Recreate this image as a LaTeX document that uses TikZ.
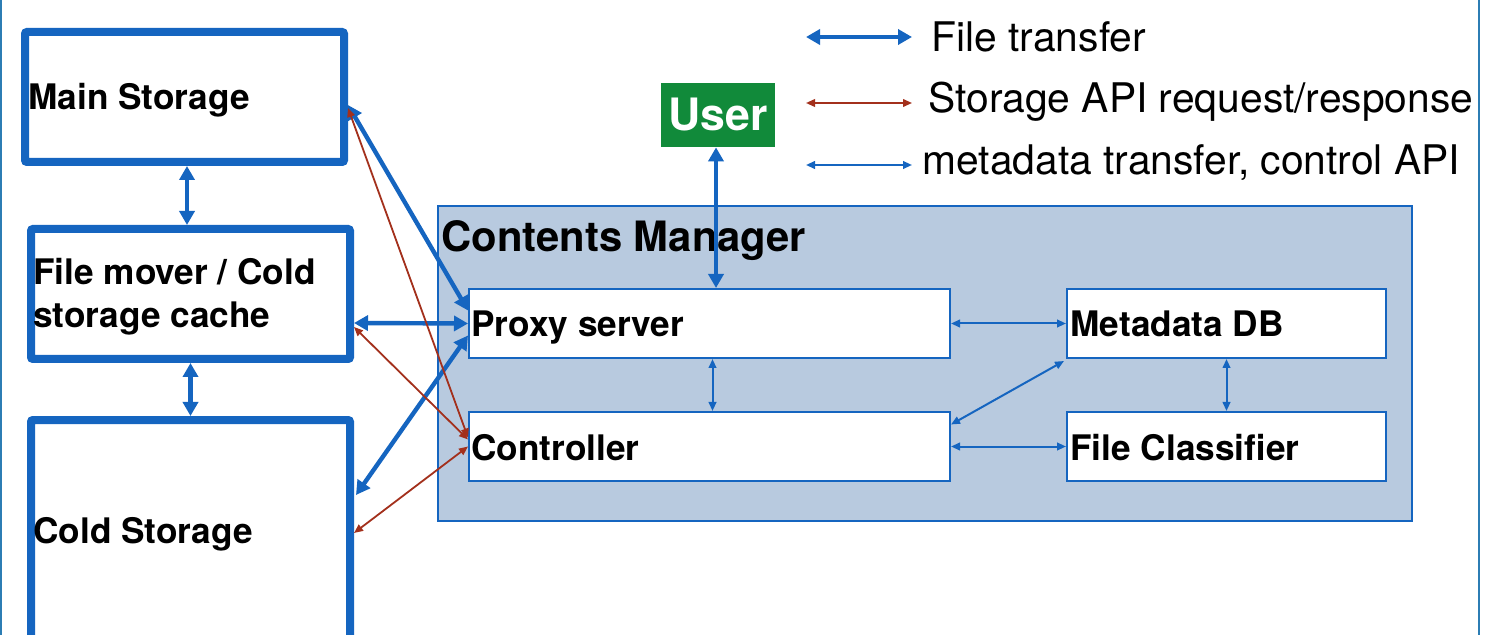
\documentclass[tikz,border=0pt]{standalone}
\usepackage{fontspec}
\setmainfont{TeX Gyre Heros}
\usetikzlibrary{arrows.meta,calc}
\definecolor{flow}{HTML}{1565C0}
\definecolor{api}{HTML}{A3301C}
\definecolor{mgr}{HTML}{B8CADF}
\definecolor{usr}{HTML}{118A3A}
\definecolor{edge}{HTML}{2C7DB4}
\begin{document}
\begin{tikzpicture}[x=0.5pt,y=-0.5pt,
  store/.style={draw=flow, line width=4pt, fill=white, rounded corners=1pt,
    inner sep=0pt, minimum width=159.5pt},
  part/.style={draw=flow, line width=1pt, fill=white, inner sep=0pt, minimum height=34.5pt},
  lbl/.style={font=\bfseries\fontsize{17.6}{21.5}\selectfont, inner sep=0pt, anchor=base west},
  legendtext/.style={font=\fontsize{20.4}{24}\selectfont, inner sep=0pt, anchor=base west},
  ft/.style={draw=flow, line width=2.2pt,
    {Triangle[length=7pt,width=7.5pt]}-{Triangle[length=7pt,width=7.5pt]}},
  apicall/.style={draw=api, line width=0.9pt,
    {Triangle[length=4.5pt,width=3.8pt]}-{Triangle[length=4.5pt,width=3.8pt]}},
  meta/.style={draw=flow, line width=1pt,
    {Triangle[length=4.5pt,width=3.8pt]}-{Triangle[length=4.5pt,width=3.8pt]}}
]
\fill[white] (0,0) rectangle (1491,635);
\useasboundingbox (0,0) rectangle (1491,635);

% side rules of the slide frame
\draw[edge, line width=1pt] (1,0) -- (1,635);
\draw[edge, line width=1pt] (1479,0) -- (1479,635);

% storage tiers
\node[store, minimum height=65pt] (main) at (184.5,97) {};
\node[store, minimum height=65pt] (mover) at (190.5,294) {};
\node[store, minimum height=130pt] (cold) at (190.5,550) {};
\node[lbl] (mainT) at (28,110) {Main Storage};
\node[lbl] (moverT1) at (33,285) {File mover / Cold};
\node[lbl] (moverT2) at (33,328) {storage cache};
\node[lbl] (coldT) at (33,543) {Cold Storage};

% contents manager and its parts
\node[draw=flow, line width=1pt, fill=mgr, inner sep=0pt,
  minimum width=487pt, minimum height=157.5pt] (cm) at (925,363.5) {};
\node[lbl, font=\bfseries\fontsize{20.9}{24}\selectfont] (cmT) at (441,252) {Contents Manager};
\node[part, minimum width=240.5pt] (proxy) at (709.5,323.5) {};
\node[part, minimum width=240.5pt] (ctrl) at (709.5,446.5) {};
\node[part, minimum width=159.5pt] (mdb) at (1226.5,323.5) {};
\node[part, minimum width=159.5pt] (cls) at (1226.5,446.5) {};
\node[lbl] (proxyT) at (471,337) {Proxy server};
\node[lbl] (ctrlT) at (471,460) {Controller};
\node[lbl] (mdbT) at (1070,337) {Metadata DB};
\node[lbl] (clsT) at (1070,460) {File Classifier};

% user
\node[fill=usr, text=white, inner sep=0pt, minimum width=57pt, minimum height=32pt,
  font=\bfseries\fontsize{22.3}{26}\selectfont] (user) at (718,115) {User};

% legend
\coordinate (l1a) at (806,37);  \coordinate (l1b) at (912,37);
\coordinate (l2a) at (806,103); \coordinate (l2b) at (912,103);
\coordinate (l3a) at (806,165); \coordinate (l3b) at (912,165);
\draw[ft] (l1a) -- (l1b);
\draw[apicall] (l2a) -- (l2b);
\draw[meta] (l3a) -- (l3b);
\node[legendtext] (l1T) at (931,52) {File transfer};
\node[legendtext] (l2T) at (928,113) {Storage API request/response};
\node[legendtext] (l3T) at (922,175) {metadata transfer, control API};

% file transfers
\draw[ft] ([shift={(2.5,0)}]main.south) -- ([shift={(2.5,0)}]main.south |- mover.north);
\draw[ft] (mover.south) -- (cold.north);
\draw[ft] ([shift={(0,8)}]main.east) -- ([shift={(0,-13)}]proxy.west);
\draw[ft] ([shift={(0,29)}]mover.east) -- (proxy.west);
\draw[ft] ([shift={(2,-55)}]cold.east) -- ([shift={(0,12)}]proxy.west);
\draw[ft] ([shift={(-2,0)}]user.south) -- ([shift={(-2,0)}]user.south |- proxy.north);

% storage API calls
\draw[apicall] ([shift={(0,11)}]main.east) -- ([shift={(0,-9)}]ctrl.west);
\draw[apicall] ([shift={(0,33)}]mover.east) -- ([shift={(0,-7)}]ctrl.west);
\draw[apicall] ([shift={(0,-17)}]cold.east) -- ([shift={(0,0)}]ctrl.west);

% metadata and control
\draw[meta] ([shift={(3,0)}]proxy.south) -- ([shift={(3,0)}]proxy.south |- ctrl.north);
\draw[meta] (proxy.east) -- (mdb.west);
\draw[meta] ([shift={(0,-22)}]ctrl.east) -- ([shift={(-2,2)}]mdb.south west);
\draw[meta] (ctrl.east) -- (cls.west);
\draw[meta] (mdb.south) -- (cls.north);
\end{tikzpicture}
\end{document}
